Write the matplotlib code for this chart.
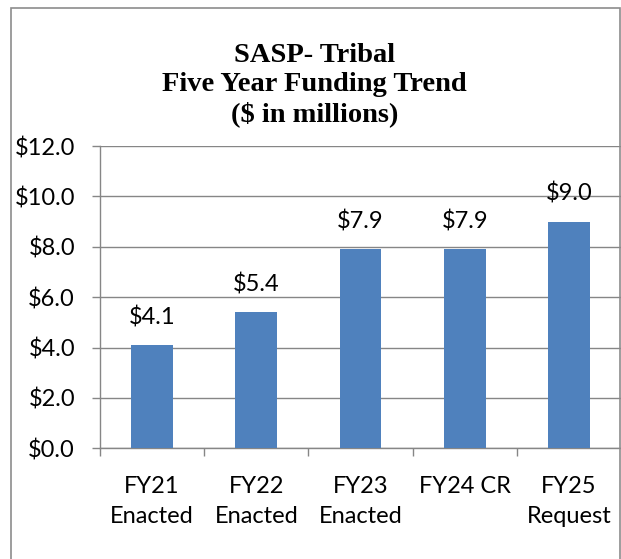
import matplotlib
matplotlib.use("Agg")
import matplotlib.pyplot as plt
from matplotlib.patches import Rectangle
import numpy as np

# Data
categories = ["FY21\nEnacted", "FY22\nEnacted", "FY23\nEnacted", "FY24 CR", "FY25\nRequest"]
funding = [4.1, 5.4, 7.9, 7.9, 9.0]
y_ticks = [0, 2, 4, 6, 8, 10, 12]

BAR_COLOR = "#4F81BD"
GRID_COLOR = "#868686"
SANS = ["Lato", "DejaVu Sans"]

fig = plt.figure(figsize=(6.21, 5.59), dpi=100)
ax = fig.add_axes([100 / 621, 1 - 448.3 / 559, 521 / 621, (448.3 - 146) / 559])

x = np.arange(len(categories))
ax.bar(x, funding, width=0.4, color=BAR_COLOR, zorder=3)

# Value labels above each bar
for xi, v in zip(x, funding):
    ax.annotate(f"${v:.1f}", (xi, v), xytext=(0, 12), textcoords="offset points",
                ha="center", va="bottom", fontsize=17, family=SANS)

ax.set_xlim(-0.5, len(categories) - 0.5)
ax.set_ylim(0, 12)
ax.set_yticks(y_ticks)
ax.set_yticklabels([f"${t:.1f}" for t in y_ticks], fontsize=17, family=SANS)

# labels at bar centres, tick marks at category boundaries
ax.set_xticks(x)
ax.set_xticklabels(categories, fontsize=17, family=SANS, linespacing=1.5)
ax.set_xticks(np.arange(len(categories)) - 0.5, minor=True)
ax.tick_params(axis="x", which="major", length=0, pad=20)
ax.tick_params(axis="x", which="minor", length=6, width=1, color=GRID_COLOR)
ax.tick_params(axis="y", length=6, width=1, color=GRID_COLOR, pad=12)

ax.grid(axis="y", color=GRID_COLOR, linewidth=1, zorder=0)
ax.set_axisbelow(True)
for side in ["top", "right"]:
    ax.spines[side].set_visible(False)
for side in ["left", "bottom"]:
    ax.spines[side].set_color(GRID_COLOR)
    ax.spines[side].set_linewidth(1)

# Title
fig.text(0.507, 1 - 85 / 559, "SASP- Tribal\nFive Year Funding Trend\n($ in millions)",
         ha="center", va="center", fontsize=20.5, fontweight="bold",
         family="Liberation Serif", linespacing=1.2)

# Chart border
fig.patches.append(Rectangle((11 / 621, -0.1), 609 / 621, 1.1 - 8 / 559,
                             transform=fig.transFigure, fill=False,
                             edgecolor="#8C8C8C", linewidth=1.2))

fig.savefig("out.png", dpi=100)
